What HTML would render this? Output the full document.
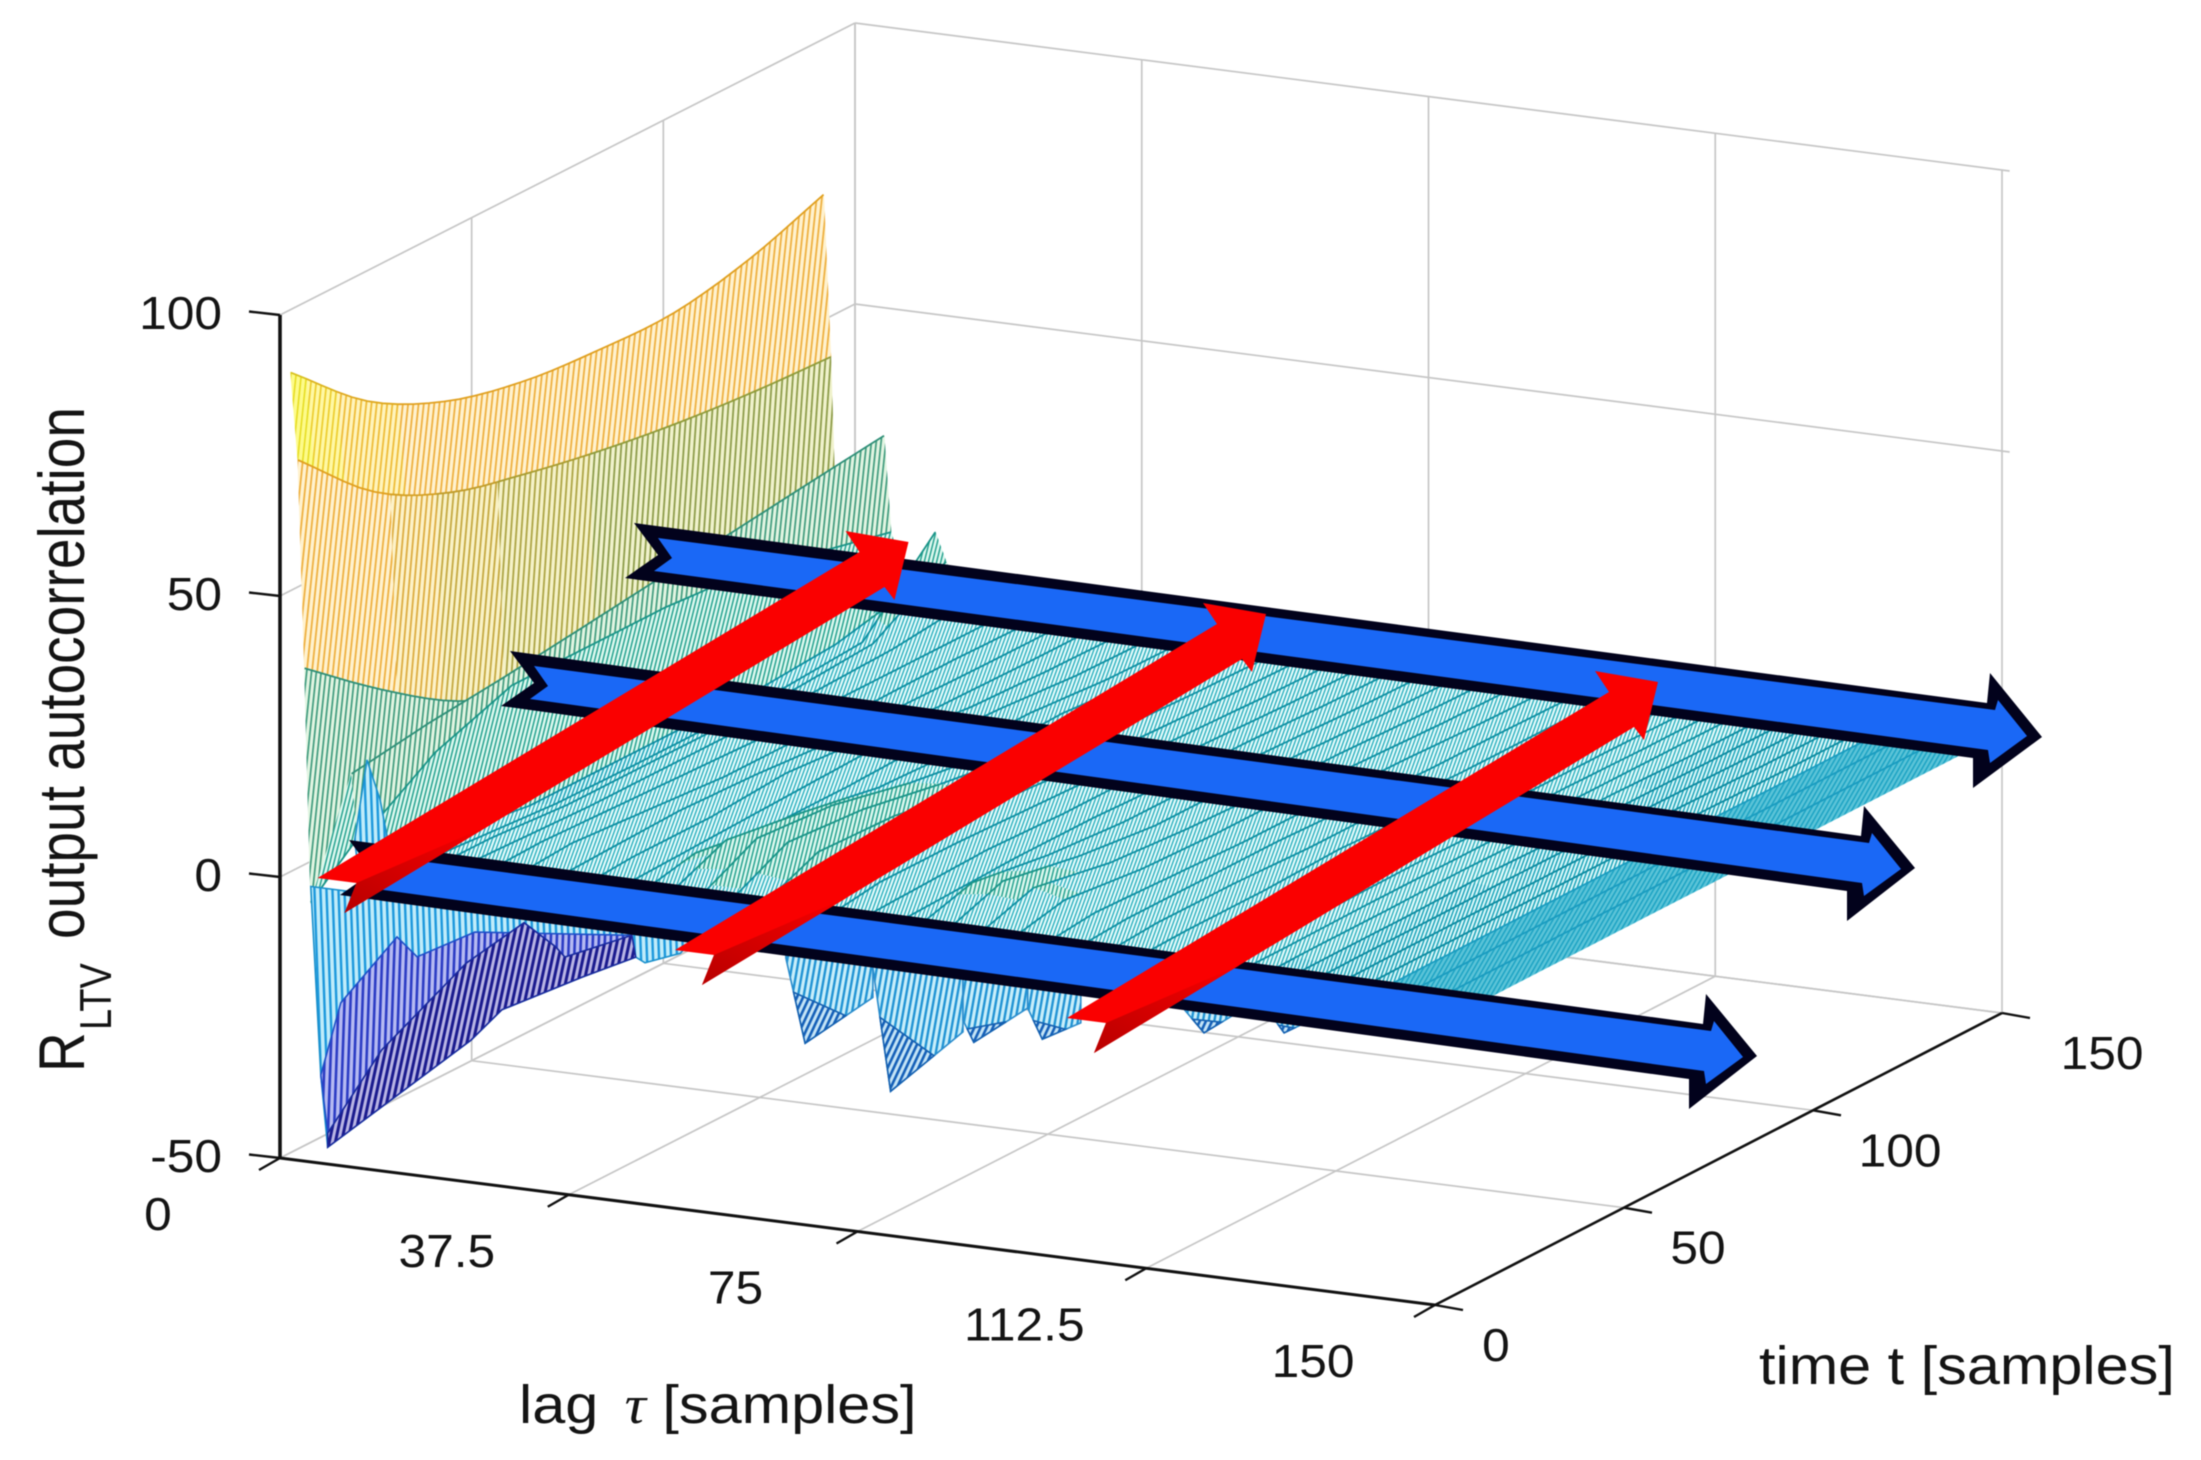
<!DOCTYPE html>
<html lang="en">
<head>
<meta charset="utf-8">
<title>R_LTV output autocorrelation surface</title>
<style>
html,body{margin:0;padding:0;background:#fff;}
#chart{display:block;width:2201px;height:1460px;filter:blur(.6px);font-family:"Liberation Sans",sans-serif;fill:#141414;}
text{font-family:"Liberation Sans",sans-serif;}
</style>
</head>
<body>
<svg id="chart" xmlns="http://www.w3.org/2000/svg" width="2201" height="1460" viewBox="0 0 2201 1460">
  <rect x="0" y="0" width="2201" height="1460" fill="#fff"/>
  <defs id="defs">
    <linearGradient id="red-tail-shade" x1="0" y1="1" x2="1" y2="0">
      <stop offset="0" stop-color="#b80000"/>
      <stop offset="1" stop-color="#fa0000"/>
    </linearGradient>
  </defs>
  <g id="grid" stroke="#c6c6c6" stroke-width="1.7" fill="none"></g>
  <g id="axes" stroke="#111" fill="none"></g>
  <g id="surface"></g>
  <g id="front"></g>
  <g id="labels" font-size="46" fill="#141414"></g>

  <g transform="translate(84,1072) rotate(-90) scale(1,1.18)" fill="#141414">
    <text x="0" y="0" font-size="55">R</text>
    <text x="42" y="23" font-size="38">LTV</text>
    <text x="133" y="0" font-size="55">output autocorrelation</text>
  </g>
  <text transform="translate(519,1423) scale(1.1,1)" font-size="54" fill="#141414">lag <tspan dx="9" font-family="'Liberation Serif',serif" font-style="italic">τ</tspan> [samples]</text>
  <text transform="translate(1759,1384) scale(1.1,1)" font-size="54" fill="#141414">time t [samples]</text>

  <g>
    <g>
      <polygon points="634,523 658,555 625,578 1973,758 1973,788 2042,737 1990,673 1987,703" fill="#02021c"/>
      <polygon points="658,538 672,558 654,571 1988,750 1990,763 2027,736 1998,700 1995,710" fill="#1a68f6"/>
    </g>
    <g>
      <polygon points="510,651 534,683 501,706 1847,891 1847,921 1915,868 1864,806 1861,836" fill="#02021c"/>
      <polygon points="534,666 548,686 530,699 1862,883 1864,896 1901,869 1872,833 1869,843" fill="#1a68f6"/>
    </g>
    <g>
      <polygon points="349,840 373,872 340,895 1689,1079 1689,1109 1757,1056 1706,994 1703,1024" fill="#02021c"/>
      <polygon points="373,855 387,875 369,888 1704,1071 1706,1084 1743,1057 1714,1021 1711,1031" fill="#1a68f6"/>
    </g>
  </g>
  <g>
    <g>
      <polygon points="317.5,878 356.5,883 344.5,913 884.5,587 894.5,600 908.5,542 845.5,531 859.5,552" fill="#fa0000"/>
      <polygon points="356.5,883 344.5,913 490,825" fill="url(#red-tail-shade)"/>
    </g>
    <g>
      <polygon points="675,950 714,955 702,985 1242,659 1252,672 1266,614 1203,603 1217,624" fill="#fa0000"/>
      <polygon points="714,955 702,985 848,897" fill="url(#red-tail-shade)"/>
    </g>
    <g>
      <polygon points="1067,1018 1106,1023 1094,1053 1634,727 1644,740 1658,682 1595,671 1609,692" fill="#fa0000"/>
      <polygon points="1106,1023 1094,1053 1240,965" fill="url(#red-tail-shade)"/>
    </g>
  </g>
</svg>

<script>
// ---- chart data ----
const tauTicks = [0, 37.5, 75, 112.5, 150];
const timeTicks = [0, 50, 100, 150];
const zTicks = [-50, 0, 50, 100];
const tGrid = [0, 20, 40, 60, 80, 100, 120, 139];
const tauRows = [1.4, 2.34, 3.2, 4, 9.3, 10.2, 12.5, 16, 17.4, 20, 24, 28, 32, 36, 40, 44, 48, 52, 56, 60, 64, 68, 72, 76, 80, 84, 88, 92, 96, 100, 104, 108, 112, 115, 118, 121, 124, 127, 130, 133, 136, 138, 141, 145, 150];
const zRows = [
  [90, 78, 71, 67.5, 66.2, 66, 68.8, 73.5],
  [74.6, 62, 55, 51.5, 48.8, 46.8, 45.5, 44.8],
  [37.7, 27, 18, 13, 10, 8, 7, 7],
  [-3.8, 8, 12, 14, 15, 17, 20, 24],
  [20, 22, 23.4, 25.1, 26.9, 28.6, 30.4, 32],
  [8, 17, 22, 22, 22, 21, 18, 15],
  [6, 3, 1, 1, 1, 1, 2, 5],
  [4, 3, 2, 1.8, 1.8, 2, 3, 16],
  [3, 3, 2, 2, 2, 2, 3, 11],
  [3, 2.5, 2, 2, 2, 2, 2.5, 4],
  [3, 3.5, 3, 2.5, 2, 2, 2, 2],
  [3, 4, 3, 2, 2, 1.8, 2, 1.8],
  [2.5, 3, 3.5, 3, 2, 2, 1.8, 1.8],
  [2, 3, 3, 4, 3, 2, 1.8, 1.8],
  [2, 2.5, 3, 3.5, 4, 2.5, 2, 1.8],
  [2, 5, 3, 3, 3.5, 3, 2, 1.8],
  [2, 8, 6, 3.5, 3, 3, 2, 1.8],
  [2, 9, 8, 5, 3, 3.5, 2.5, 1.8],
  [2, 9, 8, 5.5, 3.5, 3, 2.5, 1.8],
  [2, 8, 7.5, 5, 3, 2.5, 2, 1.8],
  [2, 7, 6, 4, 3, 2.5, 2, 1.8],
  [2, 4, 4, 3.5, 3, 2.5, 2, 1.8],
  [2.5, 3, 3.5, 3, 3, 2.5, 2, 1.8],
  [2, 2.5, 3, 3, 2.5, 2.5, 2, 1.8],
  [2, 6, 4, 3, 3, 2.5, 2, 1.8],
  [2, 7, 4.5, 3, 3, 2.5, 2, 1.8],
  [2, 6.5, 4, 3, 2.5, 2.5, 2, 1.8],
  [2, 5, 3.5, 3, 3, 2.5, 2, 1.8],
  [2, 3.5, 3, 2.5, 2.5, 2.5, 2, 1.8],
  [2, 3, 3, 3, 2.5, 2, 2, 1.8],
  [2, 3, 3, 2.5, 2.5, 2, 2, 1.8],
  [2, 2.5, 2.5, 3, 2.5, 2.5, 2, 1.8],
  [2, 2, 2.5, 2.5, 2.5, 2, 2, 1.8],
  [2, 2.2, 2.2, 2.5, 2.2, 2, 2, 1.8],
  [1.8, 2, 2, 2.2, 2, 2, 1.8, 1.8],
  [1.8, 1.8, 2, 2, 2, 1.8, 1.8, 1.8],
  [1.5, 1.8, 1.8, 2, 1.8, 1.8, 1.5, 1.5],
  [1.4, 1.5, 1.5, 1.8, 1.5, 1.5, 1.4, 1.4],
  [1.2, 1.4, 1.4, 1.5, 1.4, 1.4, 1.2, 1.2],
  [1, 1.2, 1.2, 1.2, 1.2, 1.2, 1, 1],
  [0.8, 1, 1, 1, 1, 1, 0.8, 0.8],
  [0.5, 0.6, 0.6, 0.6, 0.6, 0.6, 0.5, 0.5],
  [0.1, 0.1, 0.1, 0.1, 0.1, 0.1, 0.1, 0.1],
  [-0.1, -0.1, -0.1, -0.1, -0.1, -0.1, -0.1, -0.1],
  [-0.2, -0.2, -0.2, -0.2, -0.2, -0.2, -0.2, -0.2]
];
// front edge of the surface at t = 0 (lag, value)
const apronEdgeTau = [4, 5.3, 6.2, 24.8, 28.8, 39.2, 46.2, 47.4, 52, 54];
const apronEdgeZ = [-1, -34.3, -47, -24.7, -18.6, -11, -6.2, -7, -4.5, -1];
const midBandTau = [5.3, 7.9, 15.2, 17.8, 25.3];
const midBandZ = [-34.3, -21, -8, -11.1, -5.4];
const darkBandTau = [6.2, 13.2, 24.2, 31.7, 35.8, 37, 45.7];
const darkBandZ = [-44.5, -28.5, -11.1, -2.6, -6.2, -7.8, -2.4];
const darkEdgeTau = [6.2, 24.8, 28.8, 39.2, 46.2];
const darkEdgeZ = [-47, -24.7, -18.6, -11, -6.2];
const cyanColumnTau = [11.3, 9.7, 10, 14, 13];
const cyanColumnZ = [22.8, 8.3, 4.8, 9, 16];
const toothLeftTau = [65.7, 77, 88.7, 97.1, 117.5, 129.2];
const toothLeftZ = [-3, -2.8, -10, -6.4, -3.2, -2.9];
const toothTipTau = [68.2, 79.3, 90.1, 99, 120, 130.4];
const toothTipZ = [-17.7, -24.3, -13.7, -11.6, -6.8, -5];
const toothRightTau = [77, 88.7, 97.1, 104, 123.8, 132.6];
const toothRightZ = [-8, -12.1, -6.4, -7.8, -3, -3.2];

// ---- colour styling, by height of the mesh ----
const surfaceStyles = [
  {min: 80, bg: '#fdfb8a', line: '#e6dc22', edge: '#d8c020', gap: 5.2, w: 1.6, rot: 6},
  {min: 74, bg: '#fff8a4', line: '#eccc2c', edge: '#dcb420', gap: 5.2, w: 1.7, rot: 6},
  {min: 67, bg: '#fff4bc', line: '#eebc38', edge: '#dea820', gap: 5.2, w: 1.8, rot: 6},
  {min: 42, bg: '#fff2cf', line: '#eeb040', edge: '#e0a020', gap: 5.2, w: 1.8, rot: 6},
  {min: 38, bg: '#fdf2c8', line: '#dcac40', edge: '#d4a024', gap: 5.2, w: 1.8, rot: 5},
  {min: 34, bg: '#f9f2c6', line: '#c4a840', edge: '#c09c2a', gap: 5.2, w: 1.8, rot: 5},
  {min: 30, bg: '#f5f2c8', line: '#aca444', edge: '#a89c30', gap: 5.2, w: 1.8, rot: 4},
  {min: 25, bg: '#f0f2cc', line: '#8d9c4a', edge: '#8f9b3a', gap: 5.2, w: 1.8, rot: 4},
  {min: 12.5, bg: '#e2f5e2', line: '#3e9a7c', edge: '#2f8f78', gap: 4.8, w: 1.7, rot: 6},
  {min: 5.5, bg: '#dcf8ee', line: '#22a08e', edge: '#1a9488', gap: 4, w: 1.45, rot: 14},
  {min: 1.6, bg: '#e6fbfb', line: '#18a8b8', edge: '#0e8fa2', gap: 3.5, w: 1.25, rot: 20},
  {min: 0.5, bg: '#dcf8fa', line: '#12a0b6', edge: '#0c8aa0', gap: 3.5, w: 1.4, rot: 20},
  {min: -3, bg: '#5cc4d8', line: '#1ea4c4', edge: '#1a9cc0', gap: 4, w: 1.6, rot: 30},
  {min: -999, bg: '#c4ecf8', line: '#1c9cd8', edge: '#1880c8', gap: 5, w: 1.8, rot: 0}
];
const frontStyles = {
  cyan: {bg: '#c0ecfa', line: '#1c98dc', gap: 6, w: 2.4, rot: -2},
  mid: {bg: '#b6baf2', line: '#2c3cc4', gap: 6, w: 2.6, rot: 2},
  dark: {bg: '#b8b4e4', line: '#1b1b8e', gap: 6, w: 3, rot: 12},
  tooth: {bg: '#c8eefa', line: '#2294d4', gap: 5.6, w: 2.4, rot: 10},
  toothLow: {bg: '#c4e4f6', line: '#1560b8', gap: 5.6, w: 2.6, rot: 25}
};

// ---- axis functions ----
function projX(tau, t) {
  return 280 + (tau / 150) * (1155 - 8 * (t / 150)) + (t / 150) * 575;
}
function projY(tau, t, z) {
  return 1158 + (tau / 150) * 147 - (t / 150) * 292 - (z + 50) * 5.62;
}
function pt(tau, t, z) {
  return projX(tau, t).toFixed(1) + ',' + projY(tau, t, z).toFixed(1);
}

const NS = 'http://www.w3.org/2000/svg';
function make(tag, attrs) {
  const el = document.createElementNS(NS, tag);
  for (const k in attrs) el.setAttribute(k, attrs[k]);
  return el;
}
const defs = document.getElementById('defs');
function addPattern(id, s) {
  const p = make('pattern', {id: id, width: s.gap, height: s.gap, patternUnits: 'userSpaceOnUse', patternTransform: 'rotate(' + s.rot + ')'});
  
  
  p.appendChild(make('rect', {x: 0, y: 0, width: s.gap, height: s.gap, fill: s.bg}));
  p.appendChild(make('rect', {x: 0, y: 0, width: s.w, height: s.gap, fill: s.line}));
  defs.appendChild(p);
}
surfaceStyles.forEach(function (s, i) { addPattern('bin' + i, s); });
Object.keys(frontStyles).forEach(function (k) { addPattern('front-' + k, frontStyles[k]); });

// ---- grid ----
const grid = document.getElementById('grid');
function gridLine(a, b) {
  const l = make('line', {x1: projX(a[0], a[1]), y1: projY(a[0], a[1], a[2]), x2: projX(b[0], b[1]), y2: projY(b[0], b[1], b[2])});
  
  
  grid.appendChild(l);
}
timeTicks.forEach(function (t) {
  gridLine([0, t, -50], [0, t, 100]);
  gridLine([0, t, -50], [150, t, -50]);
});
tauTicks.forEach(function (tau) {
  gridLine([tau, 150, -50], [tau, 150, 100]);
  gridLine([tau, 0, -50], [tau, 150, -50]);
});
zTicks.forEach(function (z) {
  gridLine([0, 0, z], [0, 150, z]);
  gridLine([0, 150, z], [151, 150, z]);
});

// ---- axes and ticks ----
const axes = document.getElementById('axes');
function axisLine(x1, y1, x2, y2, w, name) {
  const l = make('line', {x1: x1, y1: y1, x2: x2, y2: y2, 'stroke-width': w});
  
  
  axes.appendChild(l);
}
axisLine(projX(0, 0), projY(0, 0, -50), projX(0, 0), projY(0, 0, 100), 3.6, 'z-axis-line');
axisLine(projX(0, 0), projY(0, 0, -50), projX(150, 0), projY(150, 0, -50), 3, 'lag-axis-line');
axisLine(projX(150, 0), projY(150, 0, -50), projX(150, 150), projY(150, 150, -50), 2.6, 'time-axis-line');
zTicks.forEach(function (z) {
  const y = projY(0, 0, z);
  axisLine(249, y - 3.5, 280, y, 2.4, 'z-tick');
});
tauTicks.forEach(function (tau) {
  const x = projX(tau, 0), y = projY(tau, 0, -50);
  axisLine(x - 21, y + 12, x, y, 2.4, 'lag-tick');
});
timeTicks.forEach(function (t) {
  const x = projX(150, t), y = projY(150, t, -50);
  axisLine(x, y, x + 28, y + 5, 2.4, 'time-tick');
});

// ---- tick labels ----
const labels = document.getElementById('labels');
function tickLabel(x, y, txt, anchor, name) {
  const el = make('text', {transform: 'translate(' + x.toFixed(1) + ',' + (y + 16).toFixed(1) + ') scale(1.08,1)', 'text-anchor': anchor});
  
  
  el.textContent = txt;
  labels.appendChild(el);
}
zTicks.forEach(function (z) {
  tickLabel(222, projY(0, 0, z) - 2, String(z), 'end', 'z-tick-label');
});
tauTicks.forEach(function (tau) {
  tickLabel(projX(tau, 0) - 122, projY(tau, 0, -50) + 56, String(tau), 'middle', 'lag-tick-label');
});
timeTicks.forEach(function (t) {
  tickLabel(projX(150, t) + 61 + 0.26 * t, projY(150, t, -50) + 40, String(t), 'middle', 'time-tick-label');
});

// ---- surface: painted back to front, one strip between each pair of lag rows ----
function zAt(rowIndex, t) {
  const row = zRows[rowIndex];
  for (let j = 0; j < tGrid.length - 1; j++) {
    if (t <= tGrid[j + 1]) {
      const f = (t - tGrid[j]) / (tGrid[j + 1] - tGrid[j]);
      if (rowIndex < 3) {
        // the tall walls are smooth curves, so draw them as splines through the read values
        const p1 = row[j], p2 = row[j + 1];
        const p0 = j > 0 ? row[j - 1] : 2 * p1 - p2;
        const p3 = j + 2 < row.length ? row[j + 2] : 2 * p2 - p1;
        return 0.5 * (2 * p1 + (p2 - p0) * f + (2 * p0 - 5 * p1 + 4 * p2 - p3) * f * f + (3 * p1 - p0 - 3 * p2 + p3) * f * f * f);
      }
      return row[j] + f * (row[j + 1] - row[j]);
    }
  }
  return row[row.length - 1];
}
function binOf(z) {
  for (let i = 0; i < surfaceStyles.length; i++) {
    if (z >= surfaceStyles[i].min) return i;
  }
  return surfaceStyles.length - 1;
}
const subT = [];
for (let j = 0; j < tGrid.length - 1; j++) {
  for (let k = 0; k < 5; k++) {
    subT.push(tGrid[j] + (tGrid[j + 1] - tGrid[j]) * k / 5);
  }
}
subT.push(tGrid[tGrid.length - 1]);

const surface = document.getElementById('surface');
for (let i = 0; i < tauRows.length - 1; i++) {
  const runs = [];
  for (let s = subT.length - 2; s >= 0; s--) {
    const ta = subT[s], tb = subT[s + 1], tm = (ta + tb) / 2;
    const mean = (zAt(i, tm) + zAt(i + 1, tm)) / 2;
    const b = binOf(mean);
    const last = runs[runs.length - 1];
    if (last && last.bin === b) { last.ts.push(ta); }
    else { runs.push({bin: b, ts: [tb, ta]}); }
  }
  runs.forEach(function (r) {
    const upper = r.ts.map(function (t) { return pt(tauRows[i], t, zAt(i, t)); });
    const lower = r.ts.slice().reverse().map(function (t) { return pt(tauRows[i + 1], t, zAt(i + 1, t)); });
    const cell = make('polygon', {points: upper.concat(lower).join(' '), fill: 'url(#bin' + r.bin + ')', stroke: 'url(#bin' + r.bin + ')', 'stroke-width': 1});
    
    
    surface.appendChild(cell);
  });
  runs.forEach(function (r) {
    const pts = r.ts.map(function (t) { return pt(tauRows[i], t, zAt(i, t)); });
    const line = make('polyline', {points: pts.join(' '), fill: 'none', stroke: surfaceStyles[r.bin].edge, 'stroke-width': 1.8});
    
    
    surface.appendChild(line);
  });
}

// ---- front edge of the surface (t = 0 curtain and teeth) ----
const front = document.getElementById('front');
function frontPoly(taus, zs, style, stroke, name) {
  const points = taus.map(function (tau, i) { return pt(tau, 0, zs[i]); }).join(' ');
  const poly = make('polygon', {points: points, fill: 'url(#front-' + style + ')', stroke: stroke, 'stroke-width': 1.6});
  
  
  front.appendChild(poly);
}
frontPoly(cyanColumnTau, cyanColumnZ, 'cyan', '#1a90cc', 'front-cyan-column');
frontPoly(apronEdgeTau, apronEdgeZ, 'cyan', '#1a90cc', 'front-curtain-cyan');
frontPoly(
  midBandTau.concat(darkBandTau.slice().reverse()),
  midBandZ.concat(darkBandZ.slice().reverse()),
  'mid', '#1e50c8', 'front-curtain-blue');
frontPoly(
  darkBandTau.concat(darkEdgeTau.slice().reverse()),
  darkBandZ.concat(darkEdgeZ.slice().reverse()),
  'dark', '#1a2a9c', 'front-curtain-navy');
toothTipTau.forEach(function (tipTau, i) {
  const lt = toothLeftTau[i], lz = toothLeftZ[i], rt = toothRightTau[i], rz = toothRightZ[i], tz = toothTipZ[i];
  frontPoly([lt, tipTau, rt, rt, lt], [lz, tz, rz, 0, 0], 'tooth', '#2a8ccc', 'front-tooth');
  const f = 0.6;
  frontPoly(
    [tipTau + f * (lt - tipTau), tipTau, tipTau + f * (rt - tipTau)],
    [tz + f * (lz - tz), tz, tz + f * (rz - tz)],
    'toothLow', '#1560b0', 'front-tooth-tip');
});
</script>
</body>
</html>
